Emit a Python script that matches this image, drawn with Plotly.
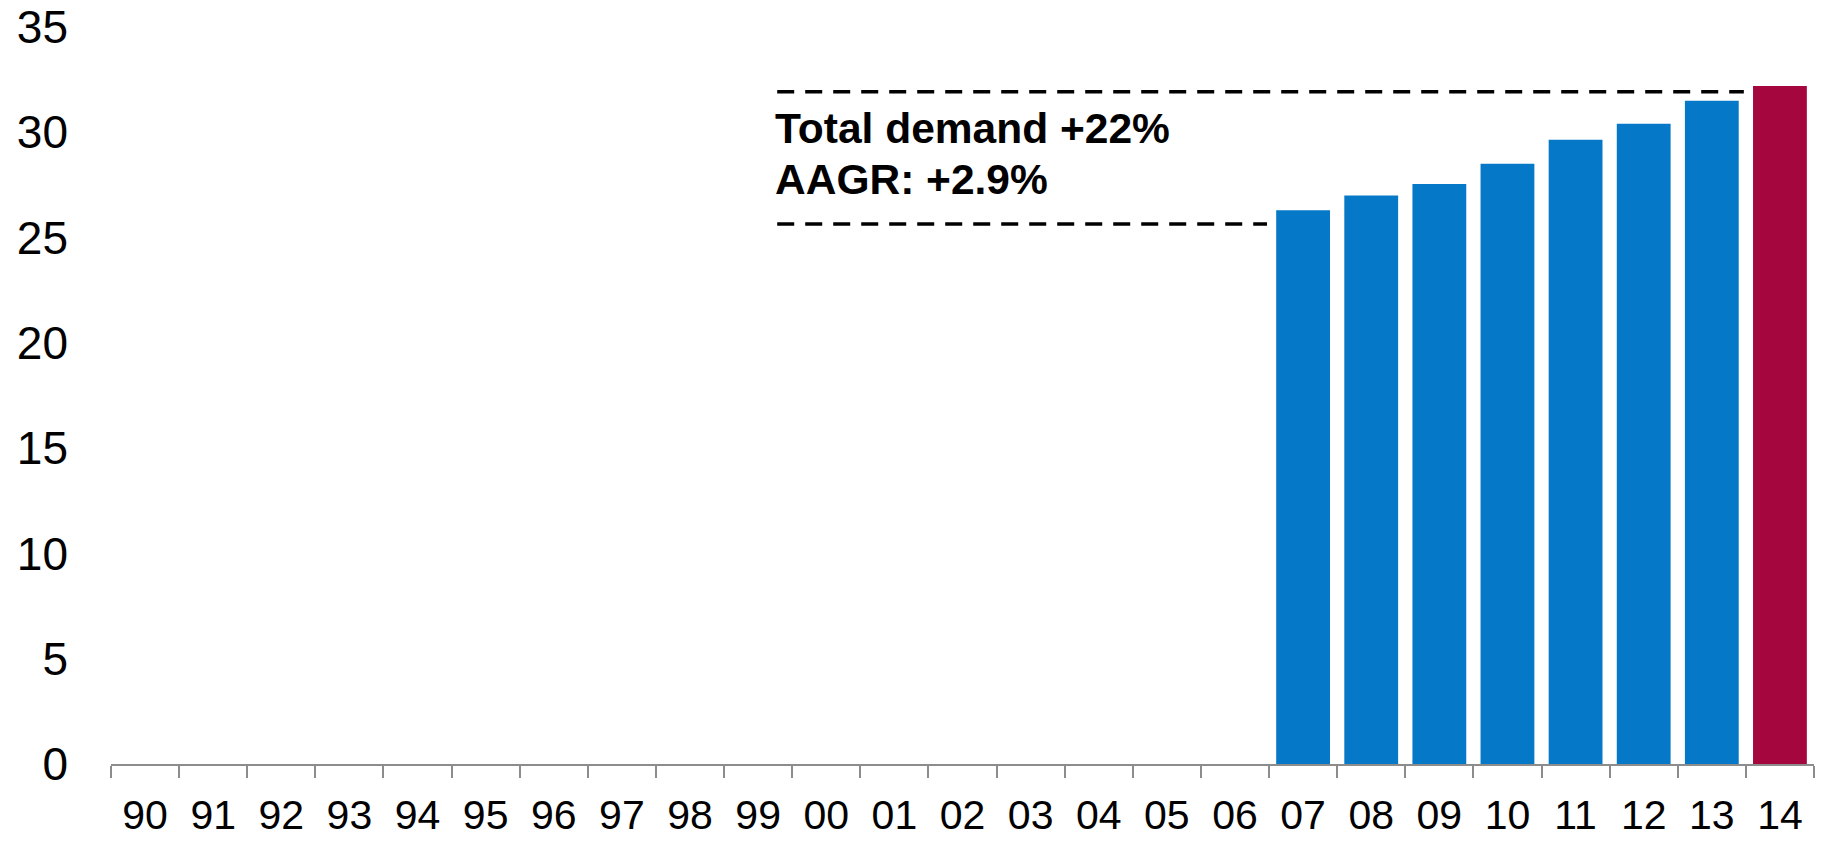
import plotly.graph_objects as go

years = ["90", "91", "92", "93", "94", "95", "96", "97", "98", "99",
         "00", "01", "02", "03", "04", "05", "06", "07", "08", "09",
         "10", "11", "12", "13", "14"]
demand = [None] * 17 + [26.3, 27.0, 27.55, 28.5, 29.65, 30.4, 31.5, 32.2]
highlight_year = "14"

y_ticks = [0, 5, 10, 15, 20, 25, 30, 35]
note_lines = ["Total demand +22%", "AAGR: +2.9%"]

BLUE = "#0678C8"
RED = "#A5063E"
FONT = "Liberation Sans, Arial, sans-serif"

bar_colors = [RED if y == highlight_year else BLUE for y in years]

fig = go.Figure()
fig.add_trace(go.Bar(
    x=years,
    y=demand,
    marker=dict(color=bar_colors, line=dict(width=0)),
    hoverinfo="skip",
))

# dashed guide lines around the note
dash = dict(color="black", width=3.5, dash="17px,11px")
fig.add_shape(type="line", xref="x", yref="y",
              x0=9.28, x1=23.47, y0=31.92, y1=31.92, line=dash)
fig.add_shape(type="line", xref="x", yref="y",
              x0=9.28, x1=16.47, y0=25.65, y1=25.65, line=dash)

# one annotation per line to get the tighter line spacing
for text, ypos in zip(note_lines, [30.2, 27.75]):
    fig.add_annotation(
        x=9.22, y=ypos, xref="x", yref="y",
        xanchor="left", yanchor="middle", align="left",
        text=f"<b>{text}</b>",
        showarrow=False,
        font=dict(family=FONT, size=42.5, color="black"),
    )

fig.update_layout(
    width=1830,
    height=843,
    paper_bgcolor="white",
    plot_bgcolor="white",
    font=dict(family=FONT, color="black"),
    margin=dict(l=111, r=16, t=27, b=79),
    bargap=0.21,
    showlegend=False,
    xaxis=dict(
        type="category",
        automargin=False,
        showgrid=False,
        showline=True,
        linecolor="#8c8c8c",
        linewidth=2,
        ticks="outside",
        tickson="boundaries",
        ticklen=12,
        tickwidth=2,
        tickcolor="#8c8c8c",
        tickfont=dict(family=FONT, size=41, color="black"),
        ticklabelstandoff=14,
    ),
    yaxis=dict(
        range=[0, 35],
        automargin=False,
        tickvals=y_ticks,
        showgrid=False,
        zeroline=False,
        showline=False,
        ticks="",
        tickfont=dict(family=FONT, size=46, color="black"),
        ticklabelstandoff=42,
    ),
)

# drop the default 8px body margin so the figure fills the window
fig.write_html(
    "out.html",
    config={"displayModeBar": False},
    post_script="document.body.style.margin='0';",
)
